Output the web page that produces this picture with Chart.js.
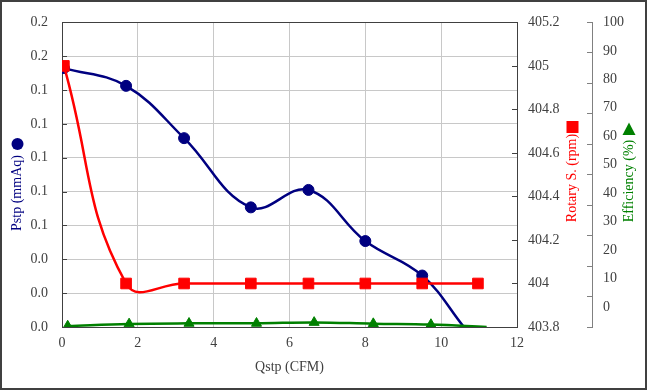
<!DOCTYPE html>
<html>
<head>
<meta charset="utf-8">
<script src="https://cdn.jsdelivr.net/npm/chart.js@4/dist/chart.umd.min.js"></script>
<style>
    html, body { margin: 0; padding: 0; background: #fff; }
    #wrap { width: 647px; height: 390px; position: relative; }
</style>
</head>
<body>
<div id="wrap"><canvas id="fanChart"></canvas></div>
<script>
// Fan performance curve data
const pstpFlow = [0.05, 1.69, 3.22, 4.98, 6.5, 8.0, 9.5, 10.6];
const pstpValues = [0.153, 0.1425, 0.1116, 0.0707, 0.081, 0.0508, 0.0304, 0];

const rpmFlow = [0.05, 1.69, 3.22, 4.98, 6.5, 8.0, 9.5, 10.97];
const rpmValues = [405, 404, 404, 404, 404, 404, 404, 404];

const effFlow = [0.15, 1.77, 3.35, 5.13, 6.65, 8.21, 9.73, 11.2];
const effValues = [0.3, 1.0, 1.2, 1.2, 1.5, 1.1, 0.8, 0];

const xTicks = [0, 2, 4, 6, 8, 10, 12];
const pstpTicks = [0, 0.02, 0.04, 0.06, 0.08, 0.1, 0.12, 0.14, 0.16, 0.18];
const rpmTicks = [403.8, 404, 404.2, 404.4, 404.6, 404.8, 405, 405.2];
const effTicks = [0, 10, 20, 30, 40, 50, 60, 70, 80, 90, 100];

const NAVY = '#000080';
const RED = '#ff0000';
const GREEN = '#008000';
const TEXT = '#404040';
const FONT = "'Liberation Serif', 'Times New Roman', serif";

const toPoints = (xs, ys) => xs.map((x, i) => ({ x: x, y: ys[i] }));
const setTicks = vals => scale => { scale.ticks = vals.map(v => ({ value: v })); };

// white background, outer border, plot frame and inward tick marks
const framePlugin = {
    id: 'frame',
    beforeDraw(chart) {
        const ctx = chart.ctx;
        ctx.save();
        ctx.fillStyle = '#fff';
        ctx.fillRect(0, 0, chart.width, chart.height);
        ctx.strokeStyle = '#404040';
        ctx.lineWidth = 2;
        ctx.strokeRect(1, 1, chart.width - 2, chart.height - 2);
        ctx.restore();
    },
    beforeDatasetsDraw(chart) {
        const { ctx, chartArea: a, scales } = chart;
        ctx.save();
        ctx.strokeStyle = '#404040';
        ctx.lineWidth = 1;
        ctx.strokeRect(Math.round(a.left) + 0.5, Math.round(a.top) + 0.5,
            Math.round(a.right - a.left), Math.round(a.bottom - a.top));
        ctx.beginPath();
        scales.y.ticks.forEach(t => {
            const py = Math.round(scales.y.getPixelForValue(t.value)) + 0.5;
            ctx.moveTo(a.left, py);
            ctx.lineTo(a.left + 5, py);
        });
        scales.yRpm.ticks.forEach(t => {
            const py = Math.round(scales.yRpm.getPixelForValue(t.value)) + 0.5;
            ctx.moveTo(a.right, py);
            ctx.lineTo(a.right - 5, py);
        });
        ctx.stroke();
        ctx.restore();
    }
};

// rotated axis titles that read bottom-to-top, with the series marker above them
const titlesPlugin = {
    id: 'sideTitles',
    afterDraw(chart) {
        const ctx = chart.ctx;
        const titles = [
            { text: 'Pstp (mmAq)', color: NAVY, x: 17.5, y: 193, marker: 'circle', my: 144 },
            { text: 'Rotary S. (rpm)', color: RED, x: 572.5, y: 178, marker: 'rect', my: 127 },
            { text: 'Efficiency (%)', color: GREEN, x: 629, y: 181, marker: 'triangle', my: 129 }
        ];
        titles.forEach(t => {
            ctx.save();
            ctx.translate(t.x, t.y);
            ctx.rotate(-Math.PI / 2);
            ctx.font = '14px ' + FONT;
            ctx.fillStyle = t.color;
            ctx.textAlign = 'center';
            ctx.textBaseline = 'middle';
            ctx.fillText(t.text, 0, 0);
            ctx.restore();

            ctx.save();
            ctx.fillStyle = t.color;
            ctx.beginPath();
            if (t.marker === 'circle') {
                ctx.arc(t.x, t.my, 6, 0, Math.PI * 2);
            } else if (t.marker === 'rect') {
                ctx.rect(t.x - 6, t.my - 6, 12, 12);
            } else {
                ctx.moveTo(t.x, t.my - 6.5);
                ctx.lineTo(t.x + 6.5, t.my + 6);
                ctx.lineTo(t.x - 6.5, t.my + 6);
                ctx.closePath();
            }
            ctx.fill();
            ctx.restore();
        });
    }
};

Chart.defaults.font.family = FONT;
Chart.defaults.font.size = 14;
Chart.defaults.color = TEXT;

const ctx = document.getElementById('fanChart').getContext('2d');
new Chart(ctx, {
    type: 'line',
    data: {
        datasets: [{
            label: 'Pstp (mmAq)',
            data: toPoints(pstpFlow, pstpValues),
            yAxisID: 'y',
            order: 3,
            borderColor: NAVY,
            backgroundColor: NAVY,
            borderWidth: 2.5,
            tension: 0.4,
            pointStyle: 'circle',
            pointRadius: pstpValues.map((v, i) => i === pstpValues.length - 1 ? 0 : 5.5),
            pointBorderWidth: 1
        }, {
            label: 'Rotary S. (rpm)',
            data: toPoints(rpmFlow, rpmValues),
            yAxisID: 'yRpm',
            order: 2,
            borderColor: RED,
            backgroundColor: RED,
            borderWidth: 2.5,
            tension: 0.45,
            pointStyle: 'rect',
            pointRadius: 7.5,
            pointBorderWidth: 1
        }, {
            label: 'Efficiency (%)',
            data: toPoints(effFlow, effValues),
            yAxisID: 'yEff',
            order: 1,
            borderColor: GREEN,
            backgroundColor: GREEN,
            borderWidth: 2.5,
            tension: 0.4,
            pointStyle: 'triangle',
            pointRadius: effValues.map((v, i) => i === effValues.length - 1 ? 0 : 5.8),
            pointBorderWidth: 1
        }]
    },
    options: {
        responsive: true,
        maintainAspectRatio: false,
        animation: false,
        layout: { padding: { top: 18, left: 0, right: 0, bottom: 0 } },
        plugins: {
            legend: { display: false },
            tooltip: { enabled: false }
        },
        scales: {
            x: {
                type: 'linear',
                min: 0,
                max: 12,
                afterBuildTicks: setTicks(xTicks),
                grid: { color: '#c8c8c8', drawTicks: false },
                border: { color: '#404040' },
                ticks: { padding: 8, color: TEXT },
                title: { display: true, text: 'Qstp (CFM)', color: TEXT, padding: { top: 0, bottom: 14 } },
                afterFit: s => { s.height = 63; }
            },
            y: {
                position: 'left',
                min: 0,
                max: 0.18,
                afterBuildTicks: setTicks(pstpTicks),
                grid: { color: '#c8c8c8', drawTicks: false },
                border: { color: '#404040' },
                ticks: { padding: 14, color: TEXT, callback: v => v.toFixed(1) },
                afterFit: s => { s.width = 62; }
            },
            yRpm: {
                position: 'right',
                min: 403.8,
                max: 405.2,
                afterBuildTicks: setTicks(rpmTicks),
                grid: { drawOnChartArea: false, drawTicks: false },
                border: { color: '#404040' },
                ticks: { padding: 11, color: TEXT, callback: v => String(+v.toFixed(1)) },
                afterFit: s => { s.width = 70; }
            },
            // efficiency data axis: only its short tick marks show
            yEff: {
                position: 'right',
                min: 0,
                max: 100,
                afterBuildTicks: setTicks(effTicks),
                grid: { drawOnChartArea: false, drawTicks: true, tickLength: 5, color: '#808080' },
                border: { display: false },
                ticks: { display: false },
                afterFit: s => { s.width = 5; }
            },
            // efficiency label axis
            yEffLabels: {
                position: 'right',
                min: -7,
                max: 100,
                afterBuildTicks: setTicks(effTicks),
                grid: { drawOnChartArea: false, drawTicks: false },
                border: { color: '#808080' },
                ticks: { padding: 11, color: TEXT },
                afterFit: s => { s.width = 55; }
            }
        }
    },
    plugins: [framePlugin, titlesPlugin]
});
</script>
</body>
</html>
